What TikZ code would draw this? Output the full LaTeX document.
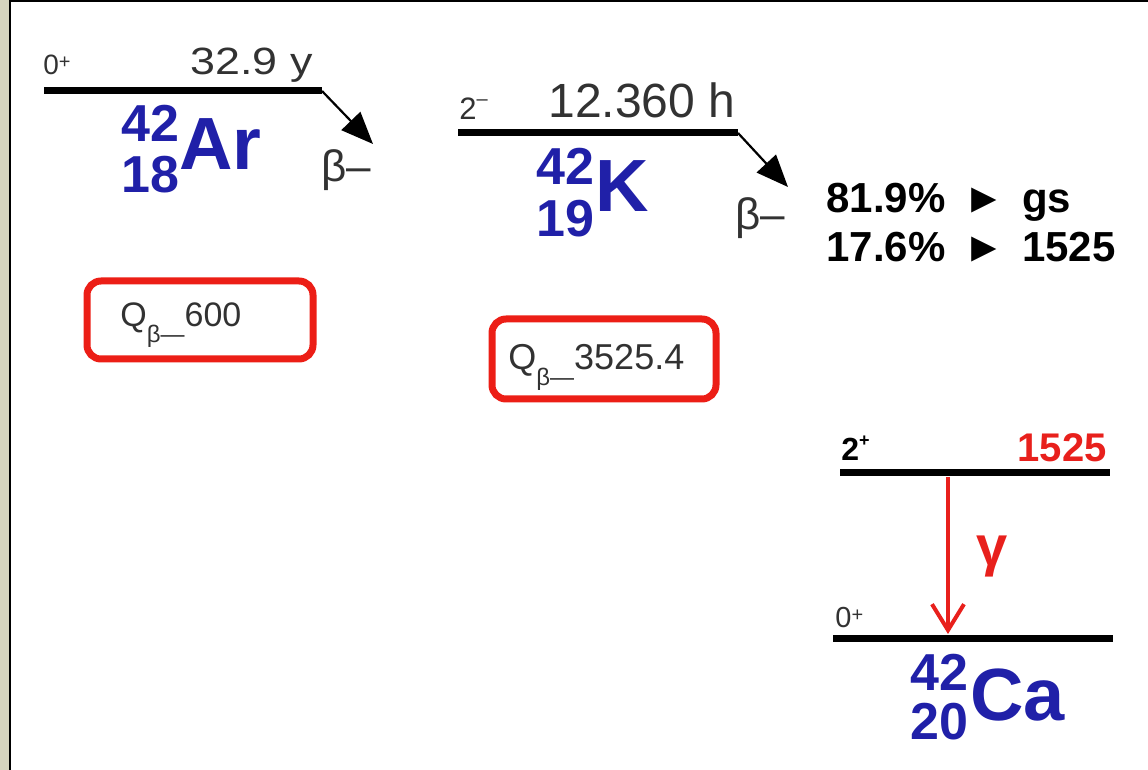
\documentclass[tikz,border=0pt]{standalone}
\usepackage{fontspec}
\usepackage{graphicx}
\setmainfont{Liberation Sans}
\usetikzlibrary{arrows.meta}
\definecolor{nucblue}{RGB}{32,32,168}
\definecolor{lvred}{RGB}{232,32,28}
\definecolor{boxred}{RGB}{236,30,22}
\definecolor{txtgray}{RGB}{50,50,50}
\definecolor{sidebeige}{RGB}{214,212,190}
\newcommand\fsz[1]{\fontsize{#1}{#1}\selectfont}
\newcommand\tri{\hspace{0.42em}►\hspace{0.42em}}
\tikzset{
  txt/.style={inner sep=0pt, anchor=base west},
  level/.style={line width=3.5pt},
  betaarrow/.style={line width=1.1pt, -{Triangle[length=16pt,width=13pt]}},
  gammaarrow/.style={draw=lvred, line width=2pt, -{Straight Barb[length=13pt,width=16pt]}},
  qbox/.style={draw=boxred, line width=3.5pt, rounded corners=7pt, inner sep=0pt},
  nucnum/.style={txt, font=\fsz{26pt}\bfseries, text=nucblue},
  nucsym/.style={txt, font=\fsz{37pt}\bfseries, text=nucblue},
}
\begin{document}
\begin{tikzpicture}[x=0.5pt,y=-0.5pt]
\useasboundingbox (0,0) rectangle (1148,770);
% frame
\fill[sidebeige] (0,0) rectangle (9,770);
\draw[line width=1.2pt] (10,0) -- (10,770);
\draw[line width=1pt] (10,1) -- (1148,1);

% ---- 42Ar ----
\coordinate (arL) at (44,91);
\coordinate (arR) at (322,91);
\coordinate (arTip) at (373,144);
\draw[level] (arL) -- (arR);
\draw[betaarrow] (arR) -- (arTip);
\node[txt, font=\fsz{14pt}, text=txtgray] (arJ) at (43,75) {0\raisebox{3.2pt}{\fsz{10pt}+}};
\node[txt, font=\fsz{19pt}, text=txtgray] (arT) at (190,75) {\scalebox{1.18}[1]{32.9 y}};
\node[txt, font=\fsz{22pt}, text=txtgray] (arB) at (321,182) {β–};
\node[nucnum] (arA) at (121,142) {42};
\node[nucnum] (arZ) at (121,193) {18};
\node[nucsym] (arS) at (179,170) {Ar};

% ---- 42K ----
\coordinate (kL) at (458,133);
\coordinate (kR) at (738,133);
\coordinate (kTip) at (788,187);
\draw[level] (kL) -- (kR);
\draw[betaarrow] (kR) -- (kTip);
\node[txt, font=\fsz{15.5pt}, text=txtgray] (kJ) at (459,120) {2\raisebox{7pt}{\fsz{10pt}–}};
\node[txt, font=\fsz{24pt}, text=txtgray] (kT) at (548,118) {12.360 h};
\node[txt, font=\fsz{22pt}, text=txtgray] (kB) at (735,230) {β–};
\node[nucnum] (kA) at (536,185) {42};
\node[nucnum] (kZ) at (536,237) {19};
\node[nucsym] (kS) at (595,212) {K};

% branching
\node[txt, font=\fsz{21pt}\bfseries] (br1) at (826,213) {81.9\%\tri gs};
\node[txt, font=\fsz{21pt}\bfseries] (br2) at (826,262) {17.6\%\tri 1525};

% Q boxes
\node[qbox, minimum width=113pt, minimum height=39pt] (q1) at (200,320) {};
\node[txt, font=\fsz{17pt}, text=txtgray] (q1t) at (120,327) {Q\raisebox{-8pt}{\fsz{12pt}β—}600};
\node[qbox, minimum width=112pt, minimum height=40pt] (q2) at (604,359) {};
\node[txt, font=\fsz{18pt}, text=txtgray] (q2t) at (508,370) {Q\raisebox{-8pt}{\fsz{12pt}β—}3525.4};

% ---- 42Ca ----
\coordinate (c2L) at (840,473);
\coordinate (c2R) at (1110,473);
\coordinate (c0L) at (833,639);
\coordinate (c0R) at (1113,639);
\coordinate (gTop) at (948,477);
\coordinate (gBot) at (948,634);
\draw[level] (c2L) -- (c2R);
\draw[level] (c0L) -- (c0R);
\draw[gammaarrow] (gTop) -- (gBot);
\node[txt, font=\fsz{16pt}\bfseries] (c2J) at (841,461) {2\raisebox{7pt}{\fsz{9pt}+}};
\node[inner sep=0pt, anchor=base east, font=\fsz{20pt}\bfseries, text=lvred] (c2E) at (1107,462) {1525};
\node[txt, font=\fsz{28pt}\bfseries, text=lvred] (gl) at (976,566) {γ};
\node[txt, font=\fsz{14.5pt}, text=txtgray] (c0J) at (835,628) {0\raisebox{3.2pt}{\fsz{10pt}+}};
\node[nucnum] (caA) at (910,690) {42};
\node[nucnum] (caZ) at (910,740) {20};
\node[nucsym] (caS) at (970,720) {Ca};
\end{tikzpicture}
\end{document}
